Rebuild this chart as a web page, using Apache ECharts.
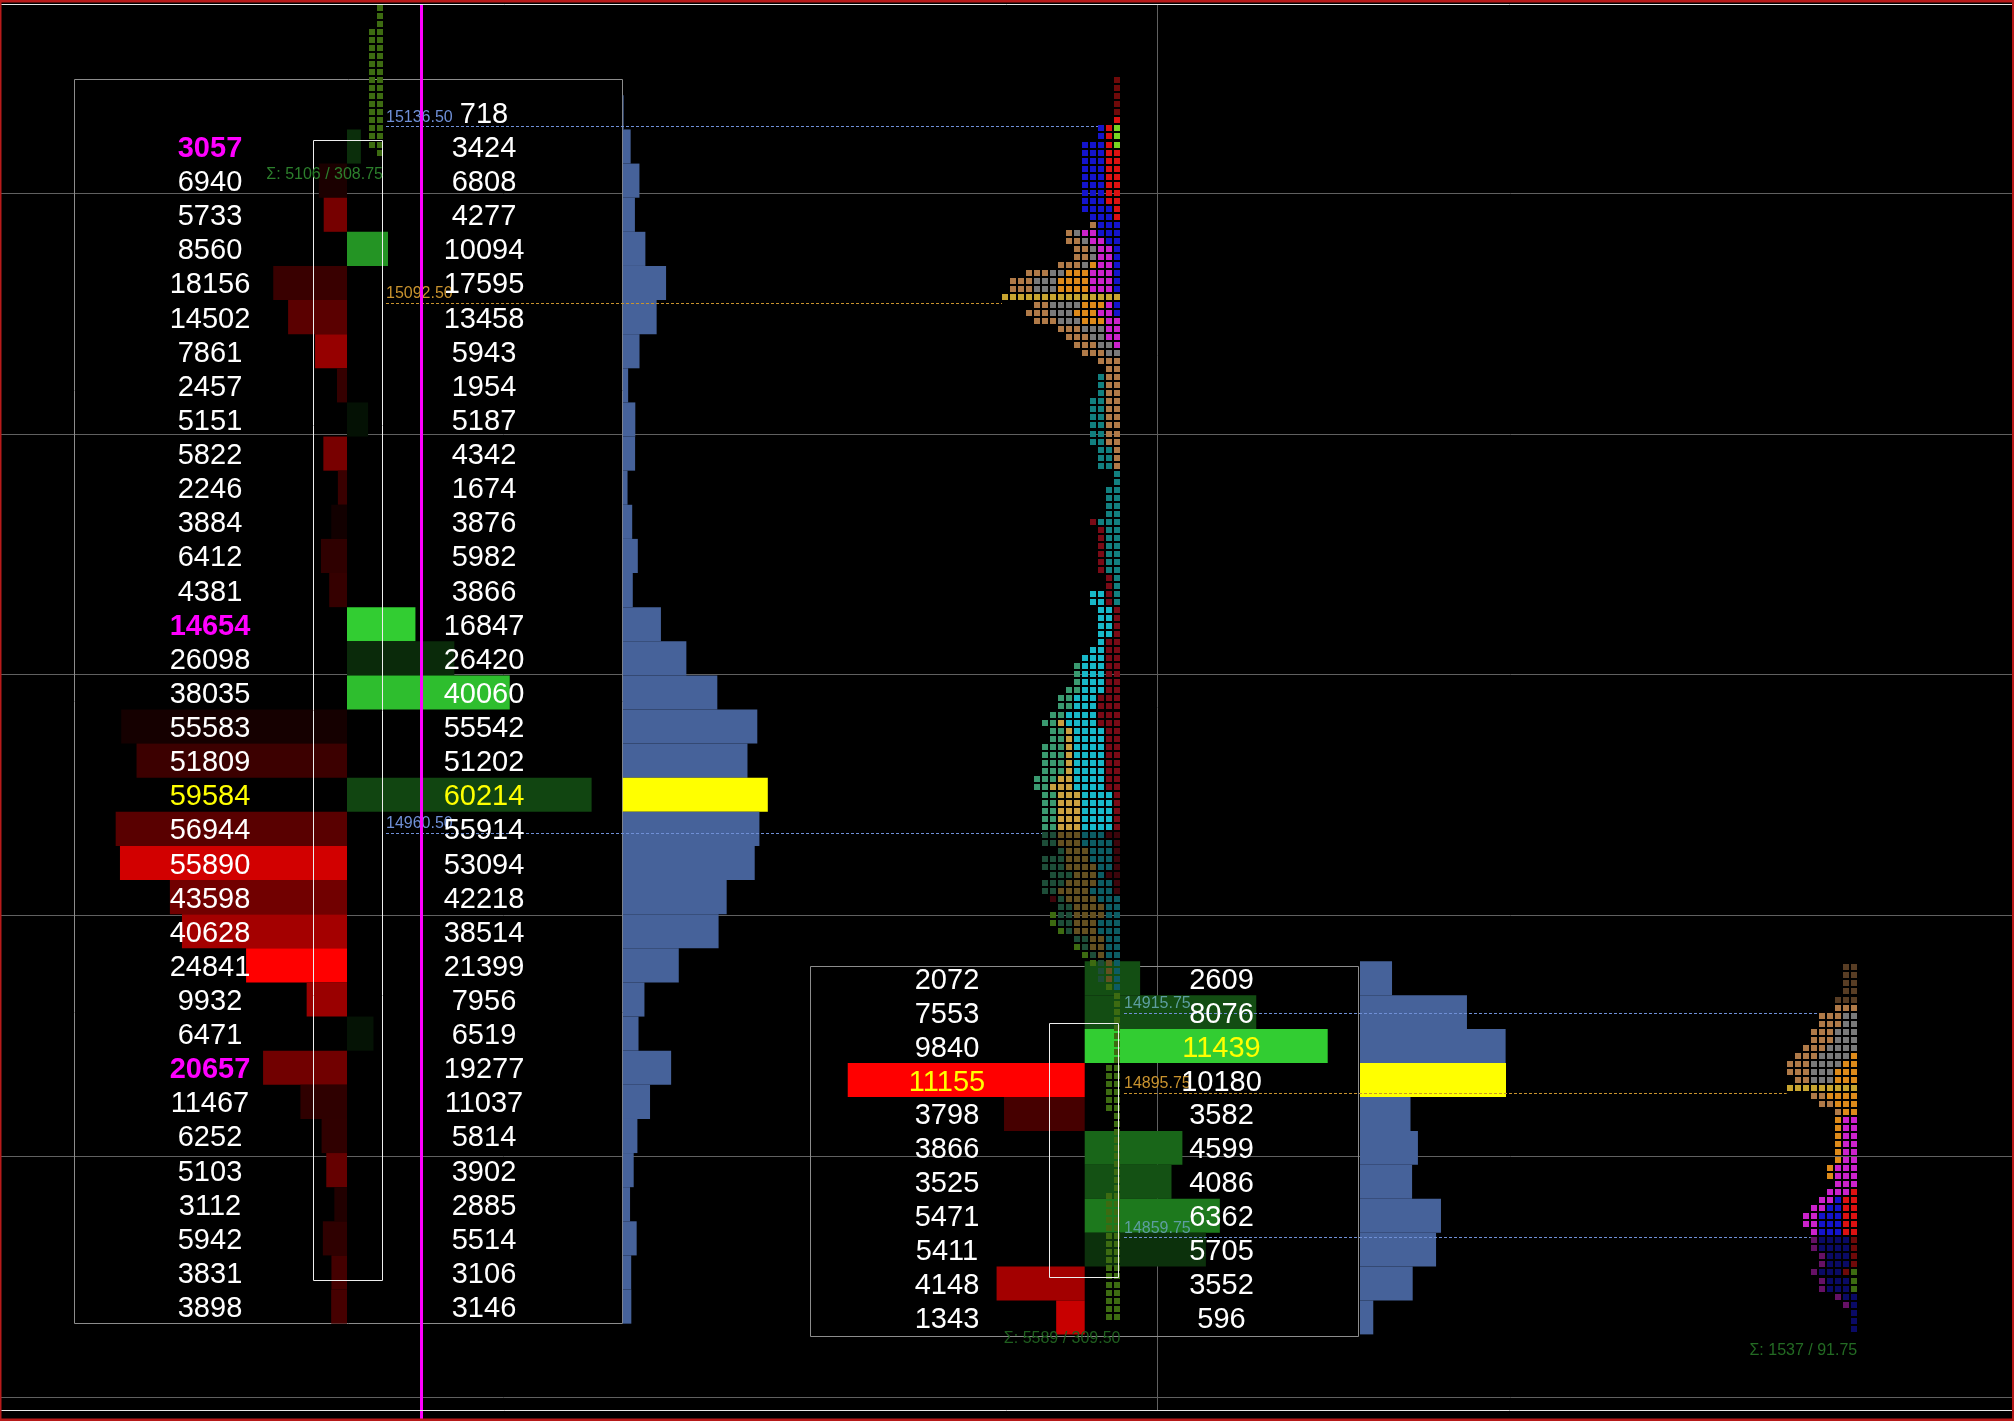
<!DOCTYPE html>
<html><head><meta charset="utf-8"><title>Footprint / TPO</title>
<script src="https://cdn.jsdelivr.net/npm/echarts@6/dist/echarts.min.js"></script>
<style>html,body{margin:0;padding:0;background:#000;overflow:hidden}#chart{width:2014px;height:1421px}</style>
</head><body><div id="chart"></div>
<script>
// ================= DATA =================
// Footprint 1 (left, large session)
const fp1Prices = [15140, 15131.5, 15123, 15114.5, 15106, 15097.5, 15089, 15080.5, 15072, 15063.5, 15055, 15046.5,
  15038, 15029.5, 15021, 15012.5, 15004, 14995.5, 14987, 14978.5, 14970, 14961.5, 14953, 14944.5, 14936, 14927.5,
  14919, 14910.5, 14902, 14893.5, 14885, 14876.5, 14868, 14859.5, 14851, 14842.5];
const fp1Bid = [null, 3057, 6940, 5733, 8560, 18156, 14502, 7861, 2457, 5151, 5822, 2246, 3884, 6412, 4381, 14654,
  26098, 38035, 55583, 51809, 59584, 56944, 55890, 43598, 40628, 24841, 9932, 6471, 20657, 11467, 6252, 5103, 3112,
  5942, 3831, 3898];
const fp1Ask = [718, 3424, 6808, 4277, 10094, 17595, 13458, 5943, 1954, 5187, 4342, 1674, 3876, 5982, 3866, 16847,
  26420, 40060, 55542, 51202, 60214, 55914, 53094, 42218, 38514, 21399, 7956, 6519, 19277, 11037, 5814, 3902, 2885,
  5514, 3106, 3146];
const fp1Body = [15133.0, 14849.1];   // candle body open / close

// Footprint 2 (bottom right, current session)
const fp2Prices = [14924.3, 14915.85, 14907.4, 14898.95, 14890.5, 14882.05, 14873.6, 14865.15, 14856.7, 14848.25, 14839.8];
const fp2Bid = [2072, 7553, 9840, 11155, 3798, 3866, 3525, 5471, 5411, 4148, 1343];
const fp2Ask = [2609, 8076, 11439, 10180, 3582, 4599, 4086, 6362, 5705, 3552, 596];
const fp2Body = [14913.1, 14849.8];

// TPO profiles: [row count, letters from right to left]
const tpo0Top = 15166;
const tpo0Rows = [[3, 'L'], [15, 'LL'], [1, 'L']];
const tpo0VA = [0, 0];

const tpo1Top = 15148;
const tpo1Poc = 15094;
const tpo1VA = [14960.9, 15138.5];
const tpo1Rows = [
  [5, 'R'], [1, 'R'], [2, 'LRB'], [1, 'LRBBB'], [7, 'RRBBB'], [1, 'RBBBB'], [1, 'RBBB'], [1, 'BBBT'],
  [1, 'BBBMMGT'], [1, 'BBMMGTT'], [2, 'BMMGTT'], [1, 'BMMOGTTT'], [1, 'BMMMOOOGGTTT'], [2, 'BMMMOOOOGGGTTT'],
  [1, 'BMMMOOOOOGGGTTT'], [1, 'BMOOOGGGGTT'], [1, 'BMMOOOGGGTTT'], [1, 'MMOOOGGGTTT'], [1, 'MMGGGTTT'],
  [1, 'MMGGTTT'], [1, 'MGGTTT'], [1, 'GGTTT'], [1, 'TTT'], [1, 'TT'], [3, 'TTC'], [6, 'TTCC'], [3, 'TCC'],
  [2, 'C'], [4, 'CC'], [1, 'CCCK'], [6, 'CCK'], [2, 'CK'], [2, 'CKAA'], [4, 'KAA'], [1, 'KKA'], [1, 'KKAA'],
  [1, 'KKAAA'], [3, 'KKAAAS'], [1, 'KKAAASS'], [2, 'KKKAAASS'], [1, 'KKKAAAASS'], [1, 'KKKAAAAHSS'],
  [2, 'KKAAAAHSS'], [4, 'KKAAAAHSSS'], [1, 'KKAAAAHHSSS'], [1, 'KKAAAAHHHSS'], [5, 'KAAAAHHHSS'],
  [1, 'KKAAAHHHSS'], [1, 'KAAAAHHHSS'], [1, 'KAAAHHHS'], [1, 'KAAAHHHSSS'], [1, 'KAAHHHHSSS'], [1, 'KKAHHHSSS'],
  [1, 'KAAHHHHSSS'], [1, 'KAAAHHHHSS'], [1, 'AAAHHHHSK'], [1, 'AAHHHHSS'], [1, 'AAHHHHSSL'], [1, 'AAAHHHSSL'],
  [1, 'AAAHHHSL'], [1, 'AAHHSS'], [1, 'AAHHSL'], [1, 'AAHSL'], [1, 'AHSL'], [2, 'AHS'], [1, 'AL'],
  [9, 'L'], [6, 'LL'], [10, 'L'], [16, 'LL']
];

const tpo2Top = 14927;
const tpo2Poc = 14897;
const tpo2VA = [14860, 14918];
const tpo2Rows = [
  [4, 'TT'], [2, 'TTT'], [2, 'GGTTT'], [2, 'GGGTTT'], [1, 'GGGGTTT'], [1, 'OGGGGTTT'], [1, 'OOGGGGTTT'],
  [1, 'OOOGGGTTT'], [1, 'OOOGGGTT'], [1, 'OOOOGGGTT'], [1, 'OOOOTT'], [1, 'OOOTT'], [1, 'OOT'], [6, 'MMO'],
  [2, 'MMMO'], [1, 'MMM'], [1, 'RMMM'], [1, 'RRBMM'], [1, 'RRBBMM'], [2, 'RRBBBMM'], [1, 'RRBBBM'],
  [2, 'RBBBBM'], [2, 'RBBBM'], [1, 'LRBBBM'], [2, 'LBBBM'], [1, 'BBM'], [1, 'BM'], [3, 'B']
];

// Value area / POC levels (VAH, POC, VAL)
const levels1 = [15136.50, 15092.50, 14960.50];
const levels2 = [14915.75, 14895.75, 14859.75];
const levelRoles = ['vah', 'poc', 'val'];
const sigmaLabels = ['\u03A3: 5106 / 308.75', '\u03A3: 5589 / 309.50', '\u03A3: 1537 / 91.75'];

const gridPrices = [15120, 15060, 15000, 14940, 14880, 14820];
const vGridX = [1157];
const cursorX = [420.5];

// ================= STYLE / LAYOUT =================
const Y_MIN = 14814, Y_MAX = 15168, W = 2014;
const FONT_NUM = '29px "Liberation Sans", Arial, Helvetica, sans-serif';
const FONT_NUM_B = 'bold 29px "Liberation Sans", Arial, Helvetica, sans-serif';
const FONT_SM = '16px "Liberation Sans", Arial, Helvetica, sans-serif';
const TEXT_DY = 2.5;
const RED = [255, 0, 0], GREEN = [50, 205, 50];
const TPO_COLORS = {R: [221, 17, 17], K: [122, 10, 22], L: [122, 214, 34], B: [20, 20, 204], T: [176, 122, 72],
  G: [122, 122, 122], M: [204, 34, 204], O: [221, 138, 26], C: [18, 128, 128], A: [24, 184, 200],
  S: [58, 154, 112], H: [200, 160, 64]};
const POC_SQ = [200, 165, 48];
const SQ = 6, PITCH = 8, TPO_ROW = 2;

const LAY1 = {boxL: 73.7, boxR: 621.4, boxTop: 15148.25, boxBot: 14838.25, bodyL: 312.5, bodyR: 381.7,
  axisX: 347, barMax: 244.6, bidX: 210, askX: 484, profX: 622.8, profMax: 145, rowH: 8.5};
const LAY2 = {boxL: 810, boxR: 1358.3, boxTop: 14927.42, boxBot: 14835.25, bodyL: 1049.3, bodyR: 1118.2,
  axisX: 1084.7, barMax: 243, bidX: 947, askX: 1221.5, profX: 1360, profMax: 146, rowH: 8.45};
const TPO0 = {x0: 379.5, sigma: '#2c7f2c'};
const TPO1 = {x0: 1117, sigma: '#1f5f1f', levelX: 386, va: '#6f8fd6', vaText: '#6f8fd6', poc: '#c8922e'};
const TPO2 = {x0: 1853.7, sigma: '#236b23', levelX: 1124, va: '#6f8fd6', vaText: '#5d9ea0', poc: '#c8922e'};

function rgb(c, k) {
  if (k == null) k = 1;
  return 'rgb(' + Math.round(c[0] * k) + ',' + Math.round(c[1] * k) + ',' + Math.round(c[2] * k) + ')';
}
function txt(x, y, text, fill, font, align) {
  return {type: 'text', style: {text: text, x: x, y: y, fill: fill, font: font, align: align, verticalAlign: 'middle',
    textAlign: align, textVerticalAlign: 'middle'}};
}
function cs(extra) {
  return Object.assign({type: 'custom', coordinateSystem: 'cartesian2d', silent: true, clip: false, animation: false}, extra);
}

const series = [];

// ---- grid lines ----
series.push(cs({z: 1, data: gridPrices.map(p => [0, p]), renderItem: (params, api) => {
  const p = api.value(1);
  const a = api.coord([0, p]), b = api.coord([W, p]);
  const y = Math.round(a[1]) + 0.5;
  return {type: 'line', shape: {x1: a[0], y1: y, x2: b[0], y2: y}, style: {stroke: '#606060', lineWidth: 1}};
}}));
series.push(cs({z: 1, data: vGridX.map(x => [x, Y_MAX]), renderItem: (params, api) => {
  const x = api.value(0);
  const a = api.coord([x, 15166.9]), b = api.coord([x, 14816.7]);
  const xx = Math.round(a[0]) + 0.5;
  return {type: 'line', shape: {x1: xx, y1: a[1], x2: xx, y2: b[1]}, style: {stroke: '#606060', lineWidth: 1}};
}}));

// ---- footprints ----
function footprint(prices, bid, ask, body, lay) {
  const n = prices.length;
  const bids = bid.filter(v => v != null);
  const maxVal = Math.max(Math.max.apply(null, bids), Math.max.apply(null, ask));
  const maxBid = Math.max.apply(null, bids), maxAsk = Math.max.apply(null, ask);
  const delta = prices.map((p, i) => bid[i] == null ? null : ask[i] - bid[i]);
  const pos = delta.filter(d => d != null && d > 0), neg = delta.filter(d => d != null && d < 0).map(d => -d);
  const maxPos = Math.max.apply(null, pos), maxNeg = Math.max.apply(null, neg);
  const tot = prices.map((p, i) => (bid[i] || 0) + ask[i]);
  const maxTot = Math.max.apply(null, tot);
  const data = prices.map((p, i) => [i, p]);
  const rowBand = (api, p) => {
    const t = api.coord([0, p + lay.rowH / 2])[1], b = api.coord([0, p - lay.rowH / 2])[1];
    return [t, b];
  };
  // panel box
  series.push(cs({z: 2, data: [[0, prices[0]]], renderItem: (params, api) => {
    const a = api.coord([lay.boxL, lay.boxTop]), b = api.coord([lay.boxR, lay.boxBot]);
    return {type: 'rect', shape: {x: Math.round(a[0]) + 0.5, y: Math.round(a[1]) + 0.5, width: Math.round(b[0] - a[0]),
      height: Math.round(b[1] - a[1])}, style: {fill: null, stroke: '#8c8c8c', lineWidth: 1}};
  }}));
  // delta bars
  series.push(cs({z: 3, data: data, renderItem: (params, api) => {
    const i = api.value(0), p = prices[i];
    if (delta[i] == null) return null;
    const band = rowBand(api, p);
    const ax = api.coord([lay.axisX, p])[0];
    let x0, x1, color;
    if (delta[i] >= 0) {
      x0 = ax; x1 = api.coord([lay.axisX + ask[i] / maxVal * lay.barMax, p])[0];
      color = rgb(GREEN, 0.07 + 0.93 * delta[i] / maxPos);
    } else {
      x1 = ax; x0 = api.coord([lay.axisX - bid[i] / maxVal * lay.barMax, p])[0];
      color = rgb(RED, 0.07 + 0.93 * (-delta[i]) / maxNeg);
    }
    return {type: 'rect', shape: {x: x0, y: band[0], width: x1 - x0, height: band[1] - band[0]}, style: {fill: color}};
  }}));
  // volume profile
  series.push(cs({z: 3, data: data, renderItem: (params, api) => {
    const i = api.value(0), p = prices[i];
    const band = rowBand(api, p);
    const x0 = api.coord([lay.profX, p])[0], x1 = api.coord([lay.profX + tot[i] / maxTot * lay.profMax, p])[0];
    return {type: 'rect', shape: {x: x0, y: band[0], width: x1 - x0, height: band[1] - band[0]},
      style: {fill: tot[i] === maxTot ? '#ffff00' : '#46629a'}};
  }}));
  // candle body
  series.push(cs({z: 5, data: [[0, body[0]]], renderItem: (params, api) => {
    const a = api.coord([lay.bodyL, body[0]]), b = api.coord([lay.bodyR, body[1]]);
    return {type: 'rect', shape: {x: Math.round(a[0]) + 0.5, y: Math.round(a[1]) + 0.5, width: Math.round(b[0] - a[0]),
      height: Math.round(b[1] - a[1])}, style: {fill: null, stroke: '#eeeeee', lineWidth: 1}};
  }}));
  // numbers
  series.push(cs({z: 8, data: data, renderItem: (params, api) => {
    const i = api.value(0), p = prices[i];
    const y = api.coord([0, p])[1] + TEXT_DY;
    const kids = [];
    if (bid[i] != null) {
      let fill = '#ffffff', font = FONT_NUM;
      if (bid[i] === maxBid) fill = '#ffff00';
      else if (i > 0 && bid[i] >= 3 * ask[i - 1]) { fill = '#ff00ff'; font = FONT_NUM_B; }
      kids.push(txt(api.coord([lay.bidX, p])[0], y, String(bid[i]), fill, font, 'center'));
    }
    {
      let fill = '#ffffff', font = FONT_NUM;
      if (ask[i] === maxAsk) fill = '#ffff00';
      else if (i < n - 1 && bid[i + 1] != null && ask[i] >= 3 * bid[i + 1]) { fill = '#ff00ff'; font = FONT_NUM_B; }
      kids.push(txt(api.coord([lay.askX, p])[0], y, String(ask[i]), fill, font, 'center'));
    }
    return {type: 'group', children: kids};
  }}));
}
footprint(fp1Prices, fp1Bid, fp1Ask, fp1Body, LAY1);
footprint(fp2Prices, fp2Bid, fp2Ask, fp2Body, LAY2);

// ---- TPO profiles ----
function expand(rows, top) {
  const out = []; let k = 0;
  rows.forEach(r => { for (let j = 0; j < r[0]; j++) { out.push({price: top - TPO_ROW * k, s: r[1]}); k++; } });
  return out;
}
function tpo(rows, top, va, poc, cfg, sigma) {
  const list = expand(rows, top);
  series.push(cs({z: 4, data: list.map((r, i) => [i, r.price]), renderItem: (params, api) => {
    const r = list[api.value(0)];
    const c = api.coord([cfg.x0, r.price]);
    const inVA = r.price >= va[0] && r.price <= va[1];
    const kids = [];
    for (let j = 0; j < r.s.length; j++) {
      const col = r.price === poc ? rgb(POC_SQ) : rgb(TPO_COLORS[r.s[j]], inVA ? 1 : 0.5);
      const cx = api.coord([cfg.x0 - j * PITCH, r.price])[0];
      kids.push({type: 'rect', shape: {x: Math.round(cx - SQ / 2), y: Math.round(c[1] - SQ / 2), width: SQ, height: SQ},
        style: {fill: col}});
    }
    return {type: 'group', children: kids};
  }}));
  // sigma summary under the profile
  const last = list[list.length - 1];
  series.push(cs({z: 8, data: [[cfg.x0, last.price]], renderItem: (params, api) => {
    const c = api.coord([cfg.x0, last.price]);
    return txt(c[0] + SQ / 2 + 0.5, c[1] + 22, sigma, cfg.sigma, FONT_SM, 'right');
  }}));
  return list;
}
const t0 = tpo(tpo0Rows, tpo0Top, tpo0VA, null, TPO0, sigmaLabels[0]);
const t1 = tpo(tpo1Rows, tpo1Top, tpo1VA, tpo1Poc, TPO1, sigmaLabels[1]);
const t2 = tpo(tpo2Rows, tpo2Top, tpo2VA, tpo2Poc, TPO2, sigmaLabels[2]);

// ---- VAH / POC / VAL dashed levels ----
function levelLines(levels, list, cfg) {
  series.push(cs({z: 6, data: levels.map((p, i) => [i, p]), renderItem: (params, api) => {
    const i = api.value(0), p = levels[i];
    let best = null;
    list.forEach(r => { if (Math.abs(r.price - p) <= 1.5 && (!best || r.s.length > best.s.length)) best = r; });
    const n = best ? best.s.length : 1;
    const endX = api.coord([cfg.x0 - (n - 1) * PITCH - SQ / 2, p])[0];
    const a = api.coord([cfg.levelX, p]);
    const isPoc = levelRoles[i] === 'poc';
    const y = Math.round(a[1]) + 0.5;
    return {type: 'group', children: [
      {type: 'line', shape: {x1: a[0], y1: y, x2: endX, y2: y},
        style: {stroke: isPoc ? cfg.poc : cfg.va, lineWidth: 1, lineDash: [3, 2]}},
      txt(a[0], a[1] - 9, p.toFixed(2), isPoc ? cfg.poc : cfg.vaText, FONT_SM, 'left')
    ]};
  }}));
}
levelLines(levels1, t1, TPO1);
levelLines(levels2, t2, TPO2);

// ---- time cursor ----
series.push(cs({z: 7, data: cursorX.map(x => [x, Y_MAX]), renderItem: (params, api) => {
  const x = api.value(0);
  const a = api.coord([x, 15166.8]), b = api.coord([x, Y_MIN]);
  const xx = Math.round(a[0]) + 0.5;
  return {type: 'line', shape: {x1: xx, y1: a[1], x2: xx, y2: b[1]}, style: {stroke: '#ff00ff', lineWidth: 3}};
}}));

const chart = echarts.init(document.getElementById('chart'), null, {renderer: 'canvas', width: 2014, height: 1421});
chart.setOption({
  backgroundColor: '#000000',
  animation: false,
  grid: {left: 0, right: 0, top: 0, bottom: 0},
  xAxis: {type: 'value', min: 0, max: W, show: false},
  yAxis: {type: 'value', min: Y_MIN, max: Y_MAX, show: false},
  series: series,
  graphic: [
    {type: 'rect', z: 100, silent: true, shape: {x: 0, y: 0, width: 2014, height: 2.5}, style: {fill: '#b81a1a'}},
    {type: 'rect', z: 100, silent: true, shape: {x: 0, y: 1418.5, width: 2014, height: 2.5}, style: {fill: '#b81a1a'}},
    {type: 'rect', z: 100, silent: true, shape: {x: 0, y: 0, width: 1.5, height: 1421}, style: {fill: '#b81a1a'}},
    {type: 'rect', z: 100, silent: true, shape: {x: 2012, y: 0, width: 2, height: 1421}, style: {fill: '#b81a1a'}},
    {type: 'line', z: 100, silent: true, shape: {x1: 1.5, y1: 4.5, x2: 2012, y2: 4.5}, style: {stroke: '#e8e8e8', lineWidth: 1}},
    {type: 'line', z: 100, silent: true, shape: {x1: 1.5, y1: 1410.5, x2: 2012, y2: 1410.5}, style: {stroke: '#e8e8e8', lineWidth: 1}}
  ]
});
</script>
</body></html>
